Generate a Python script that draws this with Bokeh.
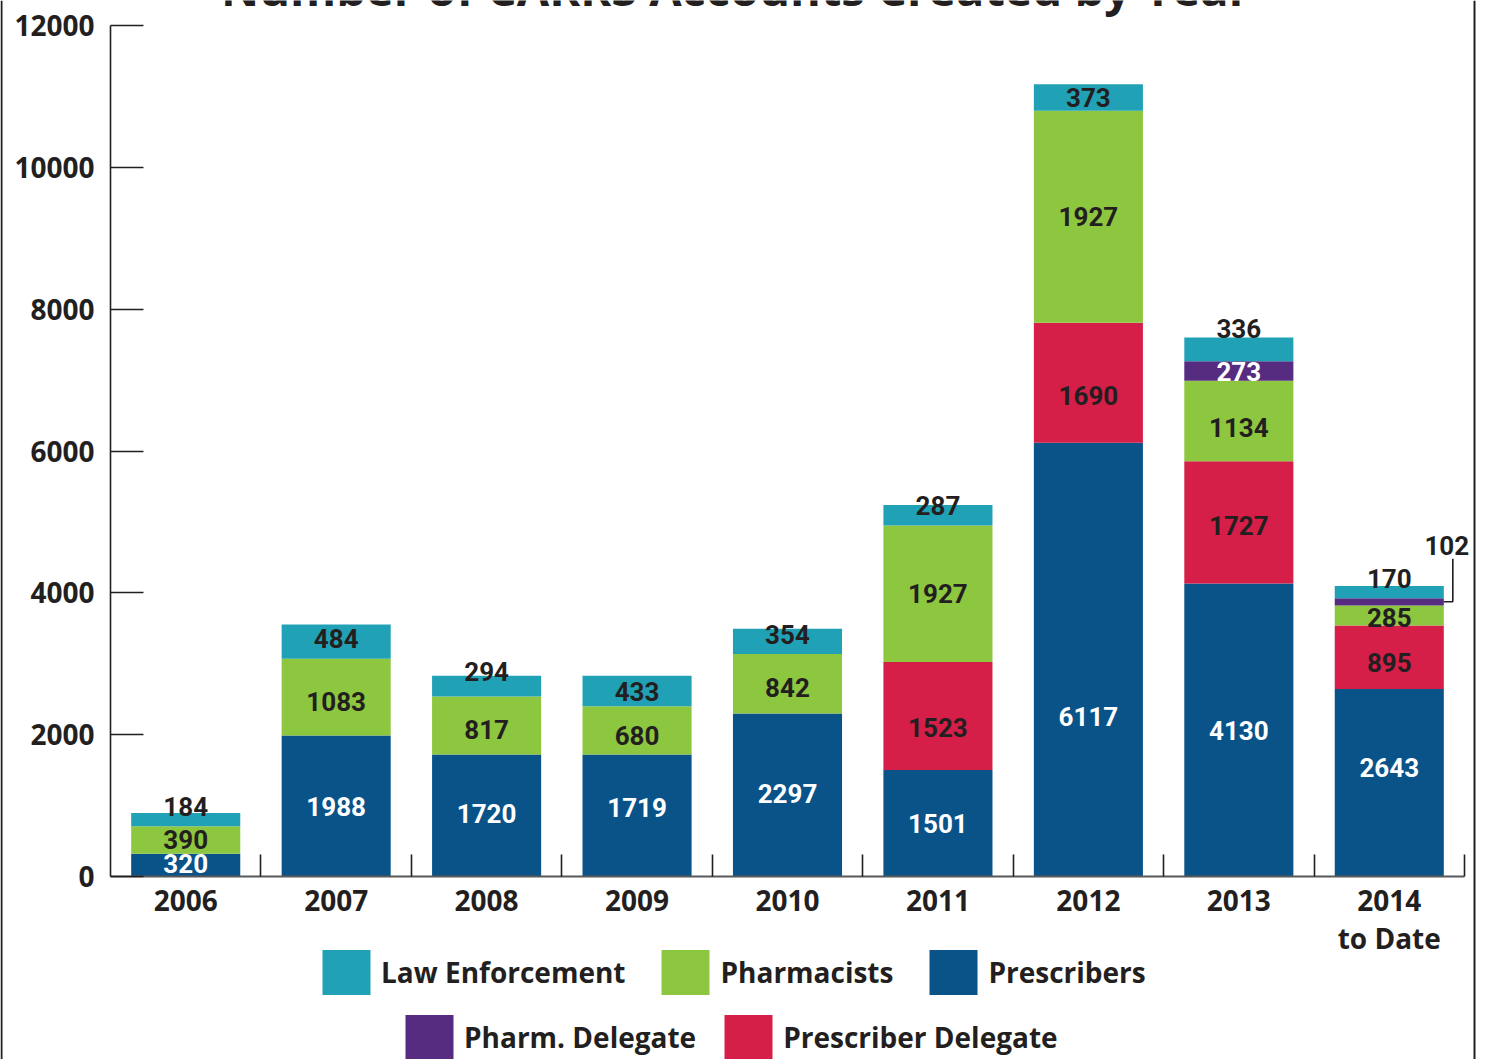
import numpy as np
from bokeh.plotting import figure
from bokeh.models import (ColumnDataSource, FixedTicker, Legend, LegendItem, Label,
                          Range1d, Span)
from bokeh.core.properties import value
from bokeh.embed import file_html
from bokeh.resources import INLINE

# ---------------- data ----------------
years = ["2006", "2007", "2008", "2009", "2010", "2011", "2012", "2013", "2014\nto Date"]
prescribers = [320, 1988, 1720, 1719, 2297, 1501, 6117, 4130, 2643]
prescriber_delegate = [0, 0, 0, 0, 0, 1523, 1690, 1727, 895]
pharmacists = [390, 1083, 817, 680, 842, 1927, 2990, 1134, 285]      # drawn heights
pharmacists_labels = ["390", "1083", "817", "680", "842", "1927", "1927", "1134", "285"]
pharm_delegate = [0, 0, 0, 0, 0, 0, 0, 273, 102]
law_enforcement = [184, 484, 294, 433, 354, 287, 373, 336, 170]
y_ticks = [0, 2000, 4000, 6000, 8000, 10000, 12000]
y_max_tick = 12000
title_text = "Number of CARRS Accounts Created by Year"

# ---------------- style ----------------
C_LAW = "#21A1B6"
C_PHARM = "#8DC63F"
C_PRESC = "#0A5389"
C_PHDEL = "#552C7F"
C_PRDEL = "#D51F49"
DARK = "#231F20"
AX_FONT = "Open Sans"
VAL_FONT = "Roboto"
BAR_W = 0.725

# canvas / plot-area geometry (pixels)
W, H = 1480, 1059
AXIS_L, AXIS_R = 110, 1464      # pixel of x=0 and x=n
AXIS_B, AXIS_T = 876, 25        # pixel of y=0 and y=12000
n = len(years)
PX_X = (AXIS_R - AXIS_L) / n
PX_Y = (AXIS_B - AXIS_T) / y_max_tick

x_range = Range1d(-AXIS_L / PX_X, (W - AXIS_L) / PX_X)
y_range = Range1d(-(H - AXIS_B) / PX_Y, y_max_tick + AXIS_T / PX_Y)

p = figure(frame_width=W, frame_height=H, x_range=x_range, y_range=y_range,
           output_backend="svg", toolbar_location=None,
           min_border_left=0, min_border_right=0, min_border_top=0, min_border_bottom=0)
p.xgrid.visible = False
p.ygrid.visible = False
p.outline_line_color = None
p.background_fill_color = "white"
p.border_fill_color = "white"

xc = np.arange(n) + 0.5

stack = [
    ("Prescribers", prescribers, C_PRESC, [str(v) for v in prescribers], "white"),
    ("Prescriber Delegate", prescriber_delegate, C_PRDEL, [str(v) for v in prescriber_delegate], DARK),
    ("Pharmacists", pharmacists, C_PHARM, pharmacists_labels, DARK),
    ("Pharm. Delegate", pharm_delegate, C_PHDEL, [str(v) for v in pharm_delegate], "white"),
    ("Law Enforcement", law_enforcement, C_LAW, [str(v) for v in law_enforcement], DARK),
]

# label nudges in pixels (positive = down)
nudge = {
    ("Law Enforcement", 0): -13, ("Law Enforcement", 1): -3, ("Law Enforcement", 2): -15,
    ("Law Enforcement", 4): -7, ("Law Enforcement", 5): -10, ("Law Enforcement", 7): -21,
    ("Law Enforcement", 8): -14,
    ("Pharmacists", 1): 4, ("Pharmacists", 2): 4, ("Pharmacists", 3): 5, ("Pharmacists", 4): 4,
    ("Pharmacists", 7): 7, ("Pharmacists", 8): 2,
    ("Prescribers", 0): -2, ("Prescribers", 2): -2, ("Prescribers", 3): -8, ("Prescribers", 4): -2,
    ("Prescribers", 6): 57, ("Prescribers", 8): -15,
    ("Prescriber Delegate", 5): 11, ("Prescriber Delegate", 6): 13,
    ("Prescriber Delegate", 7): 3, ("Prescriber Delegate", 8): 5,
}

bottom = np.zeros(n)
renderers = {}
lx, ly, ltxt, lcol, loff = [], [], [], [], []
callout = None
for name, vals, col, labs, tcol in stack:
    vals = np.array(vals, dtype=float)
    top = bottom + vals
    r = p.vbar(x=xc, width=BAR_W, bottom=bottom, top=top, fill_color=col, line_color=None)
    renderers[name] = r
    for i in range(n):
        if vals[i] <= 0:
            continue
        mid = bottom[i] + vals[i] / 2.0
        if name == "Pharm. Delegate" and i == n - 1:
            callout = (xc[i], mid, labs[i])
            continue
        lx.append(xc[i]); ly.append(mid); ltxt.append(labs[i])
        lcol.append(tcol); loff.append(nudge.get((name, i), 0))
    bottom = top

src = ColumnDataSource(dict(x=lx, y=ly, t=ltxt, c=lcol, o=loff))
p.text(x="x", y="y", text="t", text_color="c", y_offset="o", source=src,
       text_font=value(VAL_FONT), text_font_style="bold", text_font_size="26px",
       text_align="center", text_baseline="middle")

# callout for the small Pharm. Delegate value
cx, cy, ctext = callout
x_edge = cx + BAR_W / 2.0
x_v = x_edge + 9 / PX_X
y_top = cy + 43 / PX_Y
p.line(x=[x_edge, x_v, x_v], y=[cy, cy, y_top], line_color=DARK, line_width=1.6)
p.add_layout(Label(x=x_v, y=y_top, text=ctext, x_offset=-6, y_offset=13,
                   text_font=VAL_FONT, text_font_style="bold", text_font_size="26px",
                   text_color=DARK, text_align="center", text_baseline="middle"))

# ---------------- axes ----------------
xa = p.xaxis[0]
xa.fixed_location = 0
xa.bounds = (0, n)
xa.ticker = FixedTicker(ticks=list(xc), minor_ticks=list(range(1, n + 1)))
xa.major_label_overrides = {float(xc[i]): years[i] for i in range(n)}
xa.major_tick_in = 0
xa.major_tick_out = 0
xa.minor_tick_in = 22
xa.minor_tick_out = 0
xa.minor_tick_line_color = DARK
xa.minor_tick_line_width = 1.6
xa.axis_line_color = "#58595B"
xa.axis_line_width = 2
xa.major_label_standoff = 4
xa.major_label_text_font = AX_FONT
xa.major_label_text_font_style = "bold"
xa.major_label_text_font_size = "28px"
xa.major_label_text_line_height = 1.0
xa.major_label_text_color = DARK

ya = p.yaxis[0]
ya.fixed_location = 0
ya.bounds = (0, y_max_tick)
ya.ticker = FixedTicker(ticks=y_ticks, minor_ticks=[])
ya.major_tick_in = 33
ya.major_tick_out = 0
ya.minor_tick_in = 0
ya.minor_tick_out = 0
ya.major_tick_line_color = DARK
ya.major_tick_line_width = 1.6
ya.axis_line_color = DARK
ya.axis_line_width = 1.6
ya.major_label_standoff = 16
ya.major_label_text_font = AX_FONT
ya.major_label_text_font_style = "bold"
ya.major_label_text_font_size = "28px"
ya.major_label_text_color = DARK

# ---------------- title (cut off at the top, as in the source) ----------------
p.add_layout(Label(x=n / 2, y=y_max_tick, x_offset=-52, y_offset=38, text=title_text,
                   text_font=AX_FONT, text_font_style="bold", text_font_size="47px",
                   text_color=DARK, text_align="center", text_baseline="alphabetic"))

# ---------------- legends ----------------
def make_legend(names, loc, spacing):
    lg = Legend(items=[LegendItem(label=nm, renderers=[renderers[nm]]) for nm in names],
                location=loc, orientation="horizontal",
                glyph_width=60, glyph_height=56, label_standoff=5, spacing=spacing,
                padding=0, margin=0, border_line_color=None, background_fill_alpha=0,
                label_text_font=AX_FONT, label_text_font_style="bold",
                label_text_font_size="28px", label_text_color=DARK, label_height=56)
    p.add_layout(lg, "center")

make_legend(["Law Enforcement", "Pharmacists", "Prescribers"], (316, H - 1000), 30)
make_legend(["Pharm. Delegate", "Prescriber Delegate"], (399, H - 1065), 22)

# page frame lines
p.add_layout(Span(location=(1 - AXIS_L) / PX_X, dimension="height",
                  line_color=DARK, line_width=2))
p.add_layout(Span(location=(1474 - AXIS_L) / PX_X, dimension="height",
                  line_color=DARK, line_width=2))

open("out.html", "w").write(file_html(p, INLINE))
